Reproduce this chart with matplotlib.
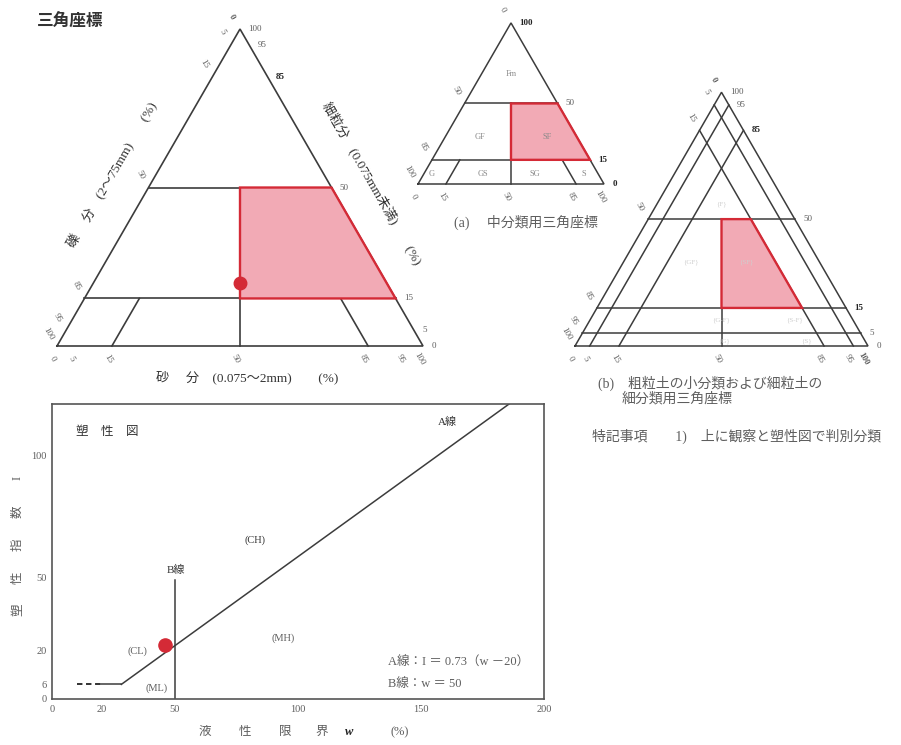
import numpy as np
import matplotlib.pyplot as plt
from matplotlib.patches import Polygon

plt.rcParams['font.family'] = ['Liberation Serif', 'Noto Sans CJK JP', 'DejaVu Sans']

FIG_W, FIG_H = 901, 745
LINE = '#3c3c3c'
TXT = '#5e5e5e'
RED = '#d42a36'
PINK = '#f2aab5'

# ternary data, points given as (gravel, sand, fines) in %
tri_corners = [(100, 0, 0), (0, 100, 0), (0, 0, 100)]
class_lines = [
    [(50, 0, 50), (0, 50, 50)],
    [(85, 0, 15), (0, 85, 15)],
    [(25, 25, 50), (50, 50, 0)],
    [(85, 15, 0), (70, 15, 15)],
    [(15, 85, 0), (15, 70, 15)],
]
class_lines_b = [
    [(50, 0, 50), (0, 50, 50)],
    [(85, 0, 15), (0, 85, 15)],
    [(95, 0, 5), (0, 95, 5)],
    [(25, 25, 50), (50, 50, 0)],
    [(95, 5, 0), (0, 5, 95)],
    [(85, 15, 0), (0, 15, 85)],
    [(5, 95, 0), (5, 0, 95)],
    [(15, 85, 0), (15, 0, 85)],
]
sf_zone = [(25, 25, 50), (0, 50, 50), (0, 85, 15), (42.5, 42.5, 15)]
sf_zone_b = [(25, 25, 50), (15, 35, 50), (15, 70, 15), (42.5, 42.5, 15)]
sample = (40, 40, 20)

ticks_full = [0, 5, 15, 50, 85, 95, 100]
ticks_full_r = [100, 95, 85, 50, 15, 5, 0]
ticks_a_left = [0, 50, 85, 100]
ticks_a_right = [100, 50, 15, 0]
ticks_a_bottom = [0, 15, 50, 85, 100]

a_classes = ['Fm', 'GF', 'SF', 'G', 'GS', 'SG', 'S']
b_classes = ['{F}', '{GF}', '{SF}', '{G-F}', '{S-F}', '{G}', '{S}']

# plasticity chart data
pc_xticks = [0, 20, 50, 100, 150, 200]
pc_yticks = [0, 6, 20, 50, 100]
a_line_w = [28.2, 185.8]
a_line_i = [6, 121]
base_dash_w = [10, 20]
base_solid_w = [20, 28.2]
base_i = [6, 6]
b_line_w = [50, 50]
b_line_i = [0, 49]
sample_w = 46
sample_i = 22


def txy(p):
    g, s, f = p
    return (s + f / 2) / 100, f / 100 * np.sqrt(3) / 2


def tern_axes(fig, px0, pybase, W, pad=0.25):
    h = np.sqrt(3) / 2
    ax = fig.add_axes([(px0 - pad * W) / FIG_W,
                       1 - (pybase + pad * W) / FIG_H,
                       (1 + 2 * pad) * W / FIG_W,
                       (h + 2 * pad) * W / FIG_H])
    ax.set_xlim(-pad, 1 + pad)
    ax.set_ylim(-pad, h + pad)
    ax.axis('off')
    ax.patch.set_visible(False)
    return ax


def draw_tern(ax, lines, zone, lw=1.1):
    pts = np.array([txy(p) for p in tri_corners + [tri_corners[0]]])
    ax.plot(pts[:, 0], pts[:, 1], color=LINE, lw=lw, solid_joinstyle='miter')
    for seg in lines:
        xy = np.array([txy(p) for p in seg])
        ax.plot(xy[:, 0], xy[:, 1], color=LINE, lw=lw)
    ax.add_patch(Polygon([txy(p) for p in zone], closed=True, fc=PINK,
                         ec=RED, lw=1.7, zorder=3))


def tick_labels(ax, left, right, bottom, fs, bold=()):
    for g in left:
        w = 'bold' if ('L', g) in bold else 'normal'
        ax.annotate(str(g), txy((g, 0, 100 - g)), xytext=(-6, 9),
                    textcoords='offset points', rotation=-60, ha='center',
                    va='center', fontsize=fs, color=TXT, fontweight=w)
    for f in right:
        w = 'bold' if ('R', f) in bold else 'normal'
        c = '#222222' if w == 'bold' else TXT
        ax.annotate(str(f), txy((0, 100 - f, f)), xytext=(6, 0),
                    textcoords='offset points', ha='left', va='center',
                    fontsize=fs, color=c, fontweight=w)
    for s in bottom:
        w = 'bold' if ('B', s) in bold else 'normal'
        ax.annotate(str(s), txy((100 - s, s, 0)), xytext=(-3, -9),
                    textcoords='offset points', rotation=-60, ha='center',
                    va='center', fontsize=fs, color=TXT, fontweight=w)


fig = plt.figure(figsize=(FIG_W / 100, FIG_H / 100), dpi=100)

# main triangle
ax0 = tern_axes(fig, 57, 346, 366)
draw_tern(ax0, class_lines, sf_zone, lw=1.2)
ax0.plot(*txy(sample), 'o', color=RED, ms=9, zorder=5)
tick_labels(ax0, ticks_full, ticks_full_r, ticks_full, 6.5,
            bold={('L', 0), ('R', 85)})
ax0.text(0.519, -0.087, '砂　 分　(0.075～2mm)　　(%)', ha='center', va='center',
         fontsize=9.5, color='#333333')
ax0.annotate('礫　 分　(2～75mm)　　(%)', txy((50, 0, 50)), xytext=(-26, 9),
             textcoords='offset points', rotation=60, ha='center', va='center',
             fontsize=9.5, color='#333333', rotation_mode='anchor')
ax0.annotate('細粒分　(0.075mm未満)　　(%)', txy((0, 50, 50)), xytext=(29, 3),
             textcoords='offset points', rotation=-60, ha='center', va='center',
             fontsize=9.5, color='#333333', rotation_mode='anchor')
fig.text(37 / FIG_W, 1 - 23 / FIG_H, '三角座標', fontsize=12, fontweight='bold',
         color='#333333', ha='left', va='center')

# (a)
axa = tern_axes(fig, 418, 184, 186)
draw_tern(axa, class_lines, sf_zone, lw=1.1)
tick_labels(axa, ticks_a_left, ticks_a_right, ticks_a_bottom, 6.5,
            bold={('R', 100), ('R', 15), ('R', 0)})
a_pos = [(16, 16, 68), (52, 19, 29), (16, 55, 29), (89.5, 4.5, 6),
         (62, 32, 6), (34, 60, 6), (8, 86, 6)]
for lab, p in zip(a_classes, a_pos):
    axa.text(*txy(p), lab, ha='center', va='center', fontsize=6,
             color='#8a8a8a', zorder=4)
fig.text(526 / FIG_W, 1 - 222 / FIG_H, '(a)　 中分類用三角座標', ha='center',
         va='center', fontsize=10, color=TXT)

# (b)
axb = tern_axes(fig, 575, 346, 293)
draw_tern(axb, class_lines_b, sf_zone_b, lw=1.1)
tick_labels(axb, ticks_full, ticks_full_r, ticks_full, 6.5,
            bold={('L', 0), ('R', 85), ('R', 15), ('B', 100)})
b_pos = [(22, 22, 56), (44, 23, 33), (25, 42, 33), (45, 45, 10),
         (20, 70, 10), (48, 50, 2), (20, 78, 2)]
for lab, p in zip(b_classes, b_pos):
    axb.text(*txy(p), lab, ha='center', va='center', fontsize=5,
             color='#cfcfcf', zorder=4)
fig.text(598 / FIG_W, 1 - 383 / FIG_H, '(b)　粗粒土の小分類および細粒土の',
         ha='left', va='center', fontsize=10, color=TXT)
fig.text(622 / FIG_W, 1 - 399 / FIG_H, '細分類用三角座標',
         ha='left', va='center', fontsize=10, color=TXT)
fig.text(592 / FIG_W, 1 - 436 / FIG_H, '特記事項　　1)　上に観察と塑性図で判別分類',
         ha='left', va='center', fontsize=10, color=TXT)

# plasticity chart
pa = fig.add_axes([52 / FIG_W, 1 - 699 / FIG_H, 492 / FIG_W, 295 / FIG_H])
pa.set_xlim(0, 200)
pa.set_ylim(0, 121)
for sp in pa.spines.values():
    sp.set_color('#555555')
    sp.set_linewidth(1.2)
pa.plot(a_line_w, a_line_i, color=LINE, lw=1.1)
pa.plot(base_dash_w, base_i, color='#222222', lw=1.3, ls=(0, (3, 2)))
pa.plot(base_solid_w, base_i, color=LINE, lw=1.1)
pa.plot(b_line_w, b_line_i, color=LINE, lw=1.1)
pa.plot(sample_w, sample_i, 'o', color=RED, ms=9.5, zorder=5)
pa.set_xticks(pc_xticks)
pa.set_yticks(pc_yticks)
pa.tick_params(length=0, labelsize=7.5, colors=TXT, pad=4)

pa.text(9.8, 109.4, '塑　性　図', fontsize=9, color='#333333', va='center')
pa.text(160.6, 113.5, 'A線', fontsize=8, color='#333333', ha='center', va='center')
pa.text(50.4, 53, 'B線', fontsize=8, color='#333333', ha='center', va='center')
pa.text(82.5, 65, '(CH)', fontsize=7.5, color='#333333', ha='center', va='center')
pa.text(94, 25, '(MH)', fontsize=7.5, color=TXT, ha='center', va='center')
pa.text(34.6, 19.7, '(CL)', fontsize=7.5, color=TXT, ha='center', va='center')
pa.text(42.7, 4.5, '(ML)', fontsize=7.5, color=TXT, ha='center', va='center')
pa.text(136.5, 14.8, 'A線：I ＝ 0.73（w －20）', fontsize=9, color=TXT, va='center')
pa.text(136.5, 6.1, 'B線：w ＝ 50', fontsize=9, color=TXT, va='center')

ylab_chars = ['塑', '性', '指', '数', 'I']
ylab_py = [610, 578, 545, 512, 478]
for ch, py in zip(ylab_chars, ylab_py):
    pa.text((18 - 52) / 492, (699 - py) / 295, ch, transform=pa.transAxes,
            rotation=90, ha='center', va='center', fontsize=9, color=TXT)

xlab_chars = ['液', '性', '限', '界', 'w', '(%)']
xlab_px = [205, 245, 285, 322, 349, 400]
for ch, px in zip(xlab_chars, xlab_px):
    kw = dict(fontweight='bold', style='italic', color='#222222') if ch == 'w' else dict(color=TXT)
    pa.text((px - 52) / 492, (699 - 732) / 295, ch, transform=pa.transAxes,
            ha='center', va='center', fontsize=9, **kw)

fig.savefig('out.png', dpi=100, facecolor='white')
